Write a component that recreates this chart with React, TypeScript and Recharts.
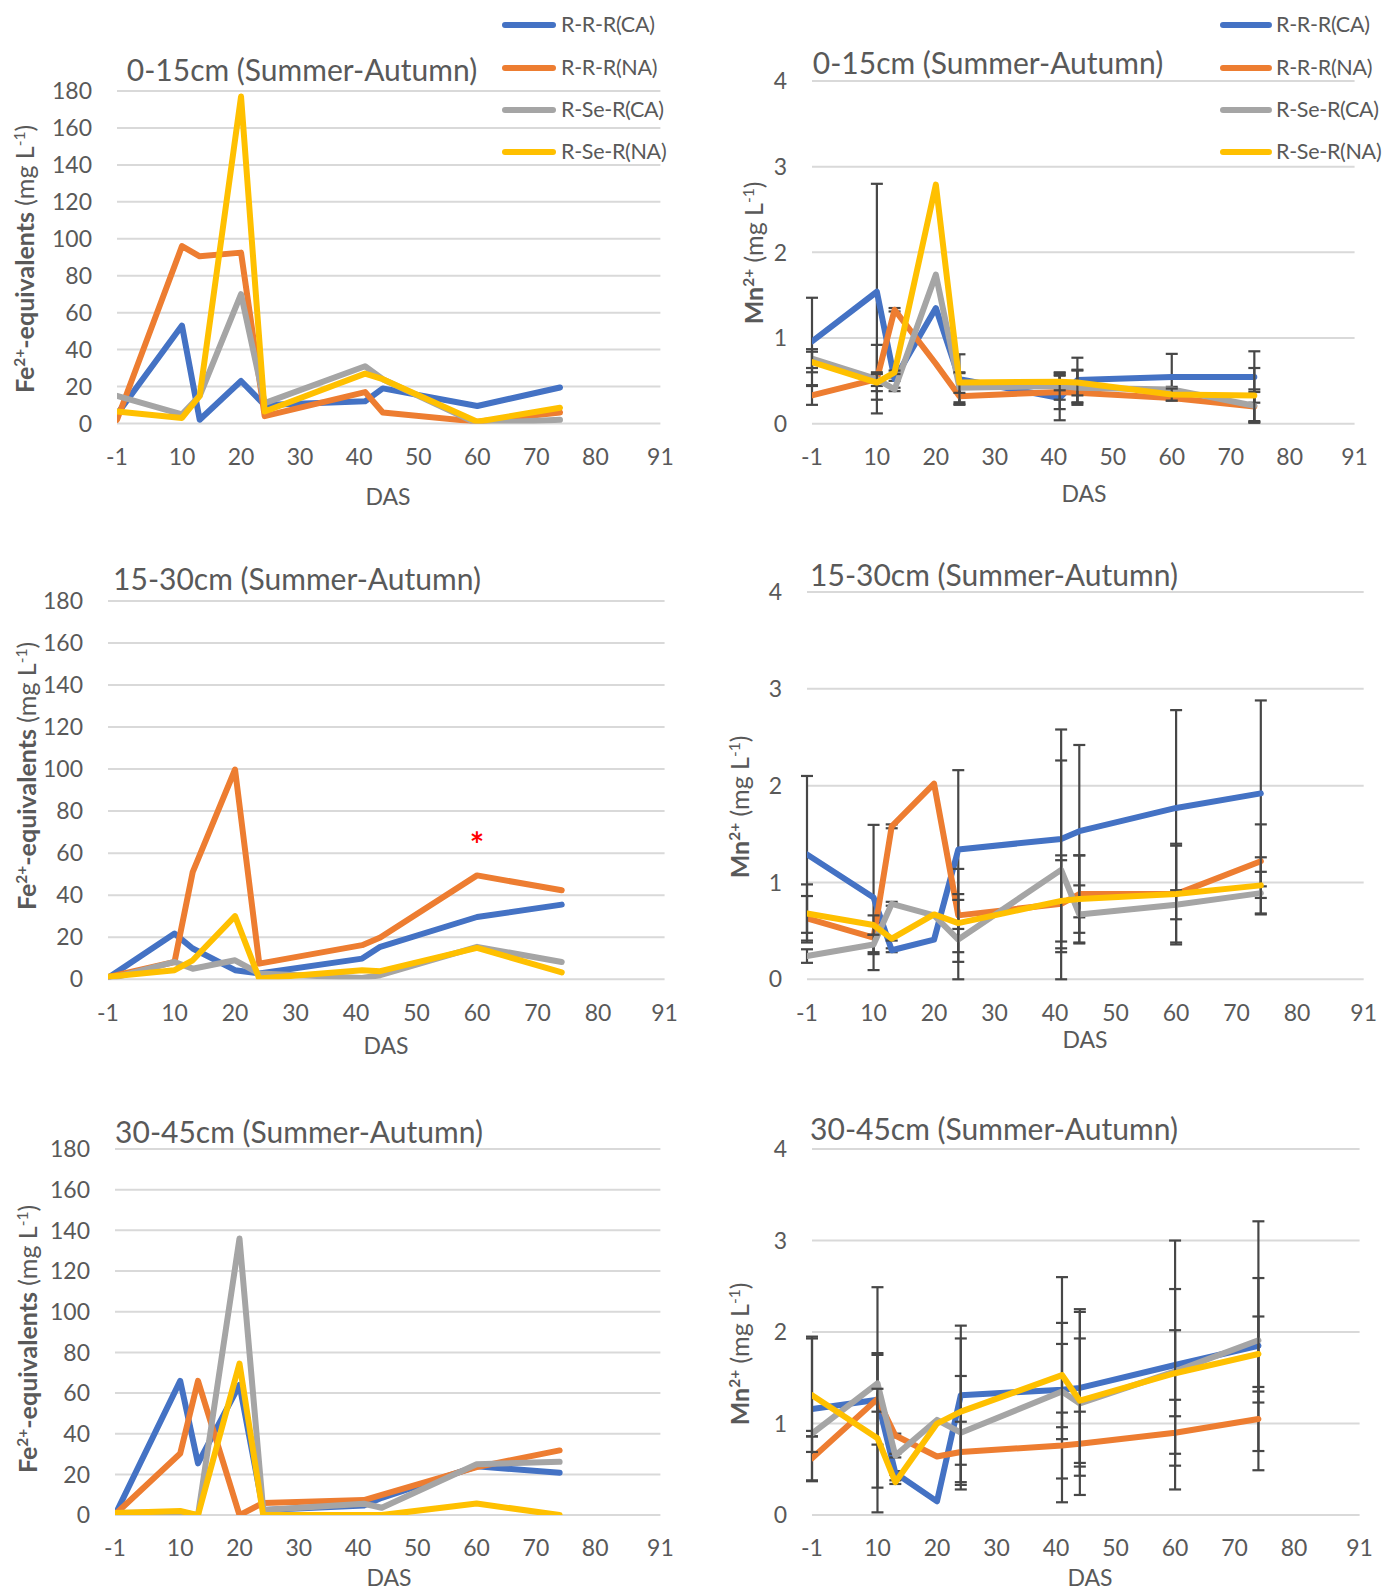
import React from 'react';
import { LineChart, Line, XAxis, YAxis, CartesianGrid, ErrorBar, ReferenceDot } from 'recharts';

// Sampling days (DAS) and axis ticks
const days = [-1, 10, 13, 20, 24, 41, 44, 60, 74];
const dasTicks = [-1, 10, 20, 30, 40, 50, 60, 70, 80, 91];
const feTicks = [0, 20, 40, 60, 80, 100, 120, 140, 160, 180];
const mnTicks = [0, 1, 2, 3, 4];

const seriesNames = ['R-R-R(CA)', 'R-R-R(NA)', 'R-Se-R(CA)', 'R-Se-R(NA)'];
const seriesColors = ['#4472C4', '#ED7D31', '#A5A5A5', '#FFC000'];

// Fe2+-equivalents, 0-15 cm
const fe015RRRCA = [5, 53, 2, 23, 10, 12, 19, 9.5, 19.5];
const fe015RRRNA = [2, 96, 90.5, 92.5, 4, 17, 6, 1, 6];
const fe015RSeRCA = [15, 5, 15, 70, 11, 31, 24, 0, 2];
const fe015RSeRNA = [6.5, 3, 15, 177, 6.5, 27, 24, 1, 8.5];

// Mn2+, 0-15 cm
const mn015RRRCA = [0.96, 1.54, 0.52, 1.35, 0.52, 0.3, 0.51, 0.545, 0.545];
const mn015RRRNA = [0.33, 0.52, 1.33, 0.7, 0.32, 0.37, 0.36, 0.3, 0.2];
const mn015RSeRCA = [0.76, 0.52, 0.4, 1.74, 0.42, 0.44, 0.42, 0.4, 0.21];
const mn015RSeRNA = [0.72, 0.48, 0.6, 2.79, 0.48, 0.49, 0.48, 0.34, 0.33];
const mn015ErrRRRCA = [0.51, 1.26, 0.02, null, 0.29, 0.26, 0.26, 0.27, 0.3];
const mn015ErrRRRNA = [0.11, 0.4, 0.02, null, 0.1, 0.2, 0.12, 0.03, 0.17];
const mn015ErrRSeRCA = [0.11, 0.08, 0.02, null, 0.17, 0.16, 0.2, 0.03, 0.19];
const mn015ErrRSeRNA = [0.12, 0.1, 0.02, null, 0.12, 0.1, 0.15, 0.07, 0.32];

// Fe2+-equivalents, 15-30 cm
const fe1530RRRCA = [0.6, 21.7, 14.6, 4.3, 2.7, 9.8, 15.4, 29.6, 35.5];
const fe1530RRRNA = [1, 8.2, 51, 99.8, 7.4, 16.2, 19.8, 49.4, 42.3];
const fe1530RSeRCA = [0, 8.2, 5, 9, 2.7, 0.6, 1.9, 15.4, 8.2];
const fe1530RSeRNA = [1.1, 4.3, 9, 30, 0.3, 4.3, 3.8, 14.9, 3.2];

// Mn2+, 15-30 cm
const mn1530RRRCA = [1.29, 0.845, 0.3, 0.41, 1.34, 1.45, 1.53, 1.77, 1.92];
const mn1530RRRNA = [0.63, 0.43, 1.58, 2.02, 0.66, 0.78, 0.88, 0.88, 1.22];
const mn1530RSeRCA = [0.24, 0.36, 0.78, 0.66, 0.41, 1.13, 0.67, 0.77, 0.89];
const mn1530RSeRNA = [0.68, 0.56, 0.42, 0.67, 0.58, 0.81, 0.83, 0.88, 0.97];
const mn1530ErrRRRCA = [0.81, 0.75, 0.02, null, 0.82, 1.13, 0.89, 1.01, 0.96];
const mn1530ErrRRRNA = [0.23, 0.15, 0.02, null, 0.48, 0.5, 0.4, 0.5, 0.38];
const mn1530ErrRSeRCA = [0.07, 0.1, 0.02, null, 0.41, 1.13, 0.3, 0.15, 0.22];
const mn1530ErrRSeRNA = [0.3, 0.1, 0.02, null, 0.3, 0.42, 0.45, 0.52, 0.29];

// Fe2+-equivalents, 30-45 cm
const fe3045RRRCA = [0, 66, 25.4, 64, 2.5, 4.7, 8.5, 24, 20.8];
const fe3045RRRNA = [0.3, 30.3, 66, 0, 6, 7.4, 10, 23.6, 31.8];
const fe3045RSeRCA = [1, 1.5, 0, 136, 2.5, 5.6, 3.6, 25, 26.2];
const fe3045RSeRNA = [1, 2, 0, 74.5, 0, 0, 0, 5.7, 0];

// Mn2+, 30-45 cm
const mn3045RRRCA = [1.16, 1.26, 0.46, 0.15, 1.31, 1.37, 1.39, 1.64, 1.85];
const mn3045RRRNA = [0.62, 1.27, 0.87, 0.64, 0.69, 0.76, 0.78, 0.9, 1.05];
const mn3045RSeRCA = [0.89, 1.44, 0.65, 1.04, 0.9, 1.35, 1.22, 1.57, 1.91];
const mn3045RSeRNA = [1.31, 0.84, 0.36, 1.0, 1.13, 1.53, 1.25, 1.55, 1.76];
const mn3045ErrRRRCA = [0.79, 1.23, 0.02, null, 0.76, 1.23, 0.86, 1.36, 1.36];
const mn3045ErrRRRNA = [0.24, 0.5, 0.02, null, 0.33, 0.36, 0.35, 0.36, 0.35];
const mn3045ErrRSeRCA = [0.03, 0.31, 0.02, null, 0.62, 0.52, 1.0, 0.9, 0.68];
const mn3045ErrRSeRNA = [0.62, 0.54, 0.02, null, 0.8, 0.57, 0.68, 0.47, 0.41];

const FONT = 'Lato, "Open Sans", sans-serif';
const TEXT = '#595959';

type Rect = { left: number; top: number; right: number; bottom: number };
type Pt = { x: number; y: number };

type PanelProps = {
  rect: Rect;
  series: number[][];
  errors?: (number | null)[][];
  yMax: number;
  yTicks: number[];
  title: string;
  titlePos: Pt;
  yLabel: 'fe' | 'mn';
  yLabelPos: Pt;
  dasPos: Pt;
  marker?: Pt;
};

const YW = 80;
const XH = 64;
const M = 26;

function Centered({ pos, children, style }: { pos: Pt; children: React.ReactNode; style?: React.CSSProperties }) {
  return (
    <div
      style={{
        position: 'absolute',
        left: pos.x,
        top: pos.y,
        transform: 'translate(-50%, -50%)',
        whiteSpace: 'nowrap',
        color: TEXT,
        fontFamily: FONT,
        lineHeight: 1.2,
        ...style,
      }}
    >
      {children}
    </div>
  );
}

const supStyle: React.CSSProperties = { fontSize: '0.62em', verticalAlign: '0.55em', lineHeight: 0 };

function YLabel({ kind, pos }: { kind: 'fe' | 'mn'; pos: Pt }) {
  return (
    <Centered pos={pos} style={{ transform: 'translate(-50%, -50%) rotate(-90deg)', fontSize: 25 }}>
      {kind === 'fe' ? (
        <>
          <b>
            Fe<span style={supStyle}>2+</span>-equivalents
          </b>{' '}
          (mg L<span style={supStyle}>-1</span>)
        </>
      ) : (
        <>
          <b>
            Mn<span style={supStyle}>2+</span>
          </b>{' '}
          (mg L<span style={supStyle}>-1</span>)
        </>
      )}
    </Centered>
  );
}

function Panel(p: PanelProps) {
  const rows = days.map((d, i) => {
    const r: Record<string, number | null> = { das: d };
    p.series.forEach((s, k) => {
      r['s' + k] = s[i];
      if (p.errors) r['e' + k] = p.errors[k][i];
    });
    return r;
  });
  const width = p.rect.right - p.rect.left + YW + M;
  const height = p.rect.bottom - p.rect.top + M + XH;
  const tick = { fill: TEXT, fontSize: 23, fontFamily: FONT };
  return (
    <>
      <div style={{ position: 'absolute', left: p.rect.left - YW, top: p.rect.top - M }}>
        <LineChart width={width} height={height} data={rows} margin={{ top: M, right: M, bottom: 0, left: 0 }}>
          <CartesianGrid vertical={false} stroke="#D9D9D9" strokeWidth={2} />
          <XAxis
            dataKey="das"
            type="number"
            domain={[-1, 91]}
            ticks={dasTicks}
            interval={0}
            axisLine={false}
            tickLine={false}
            tickSize={0}
            tickMargin={25}
            height={XH}
            tick={tick}
            allowDataOverflow
          />
          <YAxis
            type="number"
            domain={[0, p.yMax]}
            ticks={p.yTicks}
            interval={0}
            axisLine={false}
            tickLine={false}
            tickSize={0}
            tickMargin={25}
            width={YW}
            tick={tick}
            allowDataOverflow
          />
          {p.series.map((_, k) => (
            <Line
              key={k}
              type="linear"
              dataKey={'s' + k}
              name={seriesNames[k]}
              stroke={seriesColors[k]}
              strokeWidth={6}
              strokeLinejoin="round"
              strokeLinecap="round"
              dot={false}
              activeDot={false}
              isAnimationActive={false}
            >
              {p.errors && (
                <ErrorBar
                  dataKey={'e' + k}
                  direction="y"
                  width={6}
                  strokeWidth={2.2}
                  stroke="#474747"
                  isAnimationActive={false}
                />
              )}
            </Line>
          ))}
          {p.marker && (
            <ReferenceDot
              x={p.marker.x}
              y={p.marker.y}
              r={0}
              fill="none"
              stroke="none"
              label={{ value: '*', position: 'center', fill: '#FF0000', fontSize: 34, fontWeight: 700, fontFamily: FONT }}
            />
          )}
        </LineChart>
      </div>
      <Centered pos={p.titlePos} style={{ fontSize: 30 }}>
        {p.title}
      </Centered>
      <YLabel kind={p.yLabel} pos={p.yLabelPos} />
      <Centered pos={p.dasPos} style={{ fontSize: 23 }}>
        DAS
      </Centered>
    </>
  );
}

function SeriesLegend({ x1, x2, tx, ys }: { x1: number; x2: number; tx: number; ys: number[] }) {
  return (
    <>
      {seriesNames.map((name, k) => (
        <React.Fragment key={name}>
          <div
            style={{
              position: 'absolute',
              left: x1,
              top: ys[k] - 3,
              width: x2 - x1,
              height: 6,
              borderRadius: 3,
              background: seriesColors[k],
            }}
          />
          <div
            style={{
              position: 'absolute',
              left: tx,
              top: ys[k],
              transform: 'translateY(-50%)',
              fontFamily: FONT,
              fontSize: 21.5,
              letterSpacing: -0.3,
              color: TEXT,
              whiteSpace: 'nowrap',
              lineHeight: 1.2,
            }}
          >
            {name}
          </div>
        </React.Fragment>
      ))}
    </>
  );
}

const legendYs = [25, 68, 109.5, 152];

export default function App() {
  return (
    <div
      style={{
        position: 'absolute',
        left: 0,
        top: 0,
        width: 1384,
        height: 1590,
        background: '#FFFFFF',
        fontFamily: FONT,
        overflow: 'hidden',
      }}
    >
      <Panel
        rect={{ left: 116.6, top: 91.3, right: 660, bottom: 423.8 }}
        series={[fe015RRRCA, fe015RRRNA, fe015RSeRCA, fe015RSeRNA]}
        yMax={180}
        yTicks={feTicks}
        title="0-15cm (Summer-Autumn)"
        titlePos={{ x: 302, y: 69 }}
        yLabel="fe"
        yLabelPos={{ x: 24, y: 259 }}
        dasPos={{ x: 388, y: 497 }}
      />
      <Panel
        rect={{ left: 812, top: 81.1, right: 1354.6, bottom: 423.8 }}
        series={[mn015RRRCA, mn015RRRNA, mn015RSeRCA, mn015RSeRNA]}
        errors={[mn015ErrRRRCA, mn015ErrRRRNA, mn015ErrRSeRCA, mn015ErrRSeRNA]}
        yMax={4}
        yTicks={mnTicks}
        title="0-15cm (Summer-Autumn)"
        titlePos={{ x: 988, y: 62 }}
        yLabel="mn"
        yLabelPos={{ x: 753, y: 253 }}
        dasPos={{ x: 1084, y: 494 }}
      />
      <Panel
        rect={{ left: 107.5, top: 601.2, right: 664.1, bottom: 979.4 }}
        series={[fe1530RRRCA, fe1530RRRNA, fe1530RSeRCA, fe1530RSeRNA]}
        yMax={180}
        yTicks={feTicks}
        title="15-30cm (Summer-Autumn)"
        titlePos={{ x: 297, y: 578 }}
        yLabel="fe"
        yLabelPos={{ x: 26, y: 776 }}
        dasPos={{ x: 386, y: 1046 }}
        marker={{ x: 60, y: 64 }}
      />
      <Panel
        rect={{ left: 807, top: 592.1, right: 1363.7, bottom: 979.4 }}
        series={[mn1530RRRCA, mn1530RRRNA, mn1530RSeRCA, mn1530RSeRNA]}
        errors={[mn1530ErrRRRCA, mn1530ErrRRRNA, mn1530ErrRSeRCA, mn1530ErrRSeRNA]}
        yMax={4}
        yTicks={mnTicks}
        title="15-30cm (Summer-Autumn)"
        titlePos={{ x: 994, y: 574 }}
        yLabel="mn"
        yLabelPos={{ x: 739, y: 807 }}
        dasPos={{ x: 1085, y: 1040 }}
      />
      <Panel
        rect={{ left: 114.6, top: 1148.7, right: 660, bottom: 1514.8 }}
        series={[fe3045RRRCA, fe3045RRRNA, fe3045RSeRCA, fe3045RSeRNA]}
        yMax={180}
        yTicks={feTicks}
        title="30-45cm (Summer-Autumn)"
        titlePos={{ x: 299, y: 1131 }}
        yLabel="fe"
        yLabelPos={{ x: 27, y: 1339 }}
        dasPos={{ x: 389, y: 1578 }}
      />
      <Panel
        rect={{ left: 812, top: 1148.7, right: 1359.6, bottom: 1514.8 }}
        series={[mn3045RRRCA, mn3045RRRNA, mn3045RSeRCA, mn3045RSeRNA]}
        errors={[mn3045ErrRRRCA, mn3045ErrRRRNA, mn3045ErrRSeRCA, mn3045ErrRSeRNA]}
        yMax={4}
        yTicks={mnTicks}
        title="30-45cm (Summer-Autumn)"
        titlePos={{ x: 994, y: 1128 }}
        yLabel="mn"
        yLabelPos={{ x: 739, y: 1354 }}
        dasPos={{ x: 1090, y: 1578 }}
      />
      <SeriesLegend x1={502} x2={556} tx={561} ys={legendYs} />
      <SeriesLegend x1={1220} x2={1272} tx={1276} ys={legendYs} />
    </div>
  );
}
